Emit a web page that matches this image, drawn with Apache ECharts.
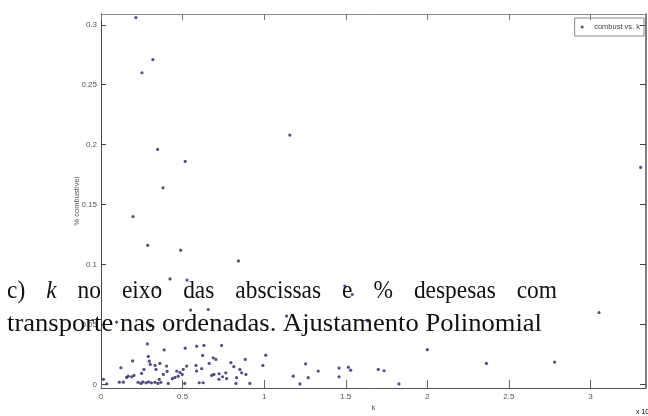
<!DOCTYPE html>
<html>
<head>
<meta charset="utf-8">
<script src="https://cdn.jsdelivr.net/npm/echarts@6/dist/echarts.min.js"></script>
<style>
  html, body { margin: 0; padding: 0; background: #fff; }
  #chart { width: 648px; height: 416px; }
</style>
</head>
<body>
<div id="chart"></div>
<script>
// k values (raw units; axis shows them scaled by 10^4)
const kValues = [
  2140, 3180, 2510, 11570, 3470, 5160, 33070, 3800, 1960, 2860,
  4880, 8420, 4230, 5270, 3430, 14940, 15400, 5490, 6570, 30520,
  11370, 960, 3020, 16330, 20000, 23620, 27800, 12540, 11780, 12190,
  12700, 13310, 14590, 14590, 15160, 15300, 16990, 17350, 18260, 10100,
  9920, 150, 350, 1220, 1120, 1370, 1940, 1570, 1670, 1880,
  2020, 2840, 2900, 2960, 3020, 3870, 5160, 2490, 2630, 3370,
  3570, 3820, 4020, 4050, 4370, 4640, 4730, 5040, 4980, 5250,
  2270, 2450, 2570, 2760, 2910, 3090, 3310, 3490, 3670, 4120,
  3310, 3610, 4530, 4840, 5130, 5820, 5860, 6170, 6230, 6020,
  6260, 6310, 6630, 6880, 6920, 7390, 7240, 7450, 7650, 7700,
  7960, 8140, 8270, 8510, 8620, 8840, 9120, 8310, 7040, 5860,
  6780, 7230, 8880
];
// share of fuel in expenses, paired with kValues
const combustValues = [
  0.306, 0.271, 0.260, 0.208, 0.196, 0.186, 0.181, 0.164, 0.140, 0.116,
  0.112, 0.103, 0.088, 0.087, 0.081, 0.082, 0.075, 0.062, 0.0625, 0.060,
  0.057, 0.052, 0.049, 0.053, 0.029, 0.0175, 0.0186, 0.0172, 0.0069, 0.0004,
  0.0056, 0.0111, 0.0136, 0.0063, 0.0144, 0.0119, 0.0125, 0.0114, 0.0004, 0.0244,
  0.0158, 0.0042, 0.0004, 0.0139, 0.0019, 0.0019, 0.0196, 0.0058, 0.0069, 0.0064,
  0.0075, 0.0338, 0.0233, 0.0194, 0.0167, 0.0288, 0.0302, 0.0092, 0.0125, 0.0125,
  0.0042, 0.0083, 0.0153, 0.0108, 0.0048, 0.0111, 0.0069, 0.0125, 0.0083, 0.0153,
  0.0017, 0.0008, 0.0021, 0.0013, 0.0021, 0.0013, 0.0017, 0.0008, 0.0017, 0.0008,
  0.0158, 0.0175, 0.0058, 0.0100, 0.0008, 0.0158, 0.0319, 0.0131, 0.0242, 0.0014,
  0.0014, 0.0325, 0.0175, 0.0222, 0.0083, 0.0325, 0.0089, 0.0064, 0.0097, 0.0048,
  0.0181, 0.0148, 0.0008, 0.0125, 0.0097, 0.0208, 0.0008, 0.0056, 0.0208, 0.0111,
  0.0075, 0.0042, 0.0083
];

const kTicks = [0, 5000, 10000, 15000, 20000, 25000, 30000];
const kTickLabels = ['0', '0.5', '1', '1.5', '2', '2.5', '3'];
const combustTicks = [0, 0.05, 0.1, 0.15, 0.2, 0.25, 0.3];
const combustTickLabels = ['0', '0.05', '0.1', '0.15', '0.2', '0.25', '0.3'];

const seriesName = 'combust vs. k';
const xName = 'k';
const yName = '% combustível';
const line1Words = ['c)', 'k', 'no', 'eixo', 'das', 'abscissas', 'e', '%', 'despesas', 'com'];
const line1Italic = [false, true, false, false, false, false, false, false, false, false];
const line2Text = 'transporte nas ordenadas. Ajustamento Polinomial';

const points = kValues.map((k, i) => [k, combustValues[i]]);

const tickFont = '"Liberation Sans", Arial, sans-serif';
const serif = '"Liberation Serif", serif';
const FS = 25;

// caption: second line at natural spacing, first line justified to a wider measure
const ctx = document.createElement('canvas').getContext('2d');
function measure(text, italic) {
  ctx.font = (italic ? 'italic ' : '') + FS + 'px ' + serif;
  return ctx.measureText(text).width;
}
const left = 7;
const line2Width = 535;
const sx = line2Width / measure(line2Text, false);
const sx1 = sx * 0.88;
const line1Width = 550;
const widths = line1Words.map((w, i) => measure(w, line1Italic[i]) * sx1);
const totalW = widths.reduce((a, b) => a + b, 0);
const gap = (line1Width - totalW) / (line1Words.length - 1);
const captionElements = [];
let cx = left;
line1Words.forEach((w, i) => {
  captionElements.push({
    type: 'text', x: cx, y: 291, scaleX: sx1, z: 100,
    style: {
      text: w, x: 0, y: 0, fontSize: FS, fontFamily: serif,
      fontStyle: line1Italic[i] ? 'italic' : 'normal',
      fill: '#111', align: 'left', verticalAlign: 'middle'
    }
  });
  cx += widths[i] + gap;
});
captionElements.push({
  type: 'text', x: left, y: 324, scaleX: sx, z: 100,
  style: {
    text: line2Text, x: 0, y: 0, fontSize: FS, fontFamily: serif,
    fill: '#111', align: 'left', verticalAlign: 'middle'
  }
});

const chart = echarts.init(document.getElementById('chart'), null, { renderer: 'canvas' });

const axisCommon = {
  type: 'value',
  splitLine: { show: false },
  axisLine: { show: true, onZero: false, lineStyle: { color: '#555', width: 1 } }
};

chart.setOption({
  animation: false,
  backgroundColor: '#fff',
  grid: { left: 101, right: 2, top: 14, bottom: 28, outerBoundsMode: 'none', containLabel: false },
  legend: {
    data: [{ name: seriesName, icon: 'circle' }],
    right: 4, top: 18,
    itemWidth: 14, itemHeight: 3,
    padding: [5, 4, 5, 6],
    borderColor: '#888', borderWidth: 1,
    textStyle: { fontSize: 7.5, color: '#444', fontFamily: tickFont }
  },
  xAxis: [
    Object.assign({}, axisCommon, {
      position: 'bottom', min: 0, max: 33400,
      name: xName, nameLocation: 'middle', nameGap: 16, nameMoveOverlap: false,
      nameTextStyle: { fontSize: 8, color: '#555', fontFamily: tickFont },
      axisTick: { inside: true, length: 8, customValues: kTicks, lineStyle: { color: '#666' } },
      axisLabel: {
        customValues: kTicks, margin: 5, fontSize: 8, color: '#555', fontFamily: tickFont,
        formatter: v => kTickLabels[kTicks.indexOf(v)]
      }
    }),
    Object.assign({}, axisCommon, {
      position: 'top', min: 0, max: 33400,
      axisLine: { show: true, onZero: false, lineStyle: { color: '#888', width: 1 } },
      axisTick: { inside: true, length: 6, customValues: kTicks, lineStyle: { color: '#777' } },
      axisLabel: { show: false }
    })
  ],
  yAxis: [
    Object.assign({}, axisCommon, {
      position: 'left', min: -0.003, max: 0.309,
      name: yName, nameLocation: 'middle', nameGap: 20, nameRotate: 90, nameMoveOverlap: false,
      nameTextStyle: { fontSize: 7.5, color: '#555', fontFamily: tickFont },
      axisLine: { show: true, onZero: false, lineStyle: { color: '#444', width: 1 } },
      axisTick: { inside: true, length: 5, customValues: combustTicks, lineStyle: { color: '#444' } },
      axisLabel: {
        customValues: combustTicks, margin: 4, fontSize: 8, color: '#555', fontFamily: tickFont,
        formatter: v => combustTickLabels[combustTicks.indexOf(v)]
      }
    }),
    Object.assign({}, axisCommon, {
      position: 'right', min: -0.003, max: 0.309,
      axisLine: { show: true, onZero: false, lineStyle: { color: '#555', width: 1.5 } },
      axisTick: { inside: true, length: 6, customValues: combustTicks, lineStyle: { color: '#444' } },
      axisLabel: { show: false }
    })
  ],
  series: [{
    name: seriesName,
    type: 'scatter',
    xAxisIndex: 0, yAxisIndex: 0,
    symbol: 'circle',
    symbolSize: 3.2,
    itemStyle: { color: '#2c2166' },
    data: points
  }],
  graphic: [
    {
      type: 'text', left: 636, top: 405, z: 50,
      style: {
        text: '{b|x 10}{s|4}',
        rich: {
          b: { fontSize: 7, color: '#555', fontFamily: tickFont, padding: [4, 0, 0, 0] },
          s: { fontSize: 6, color: '#555', fontFamily: tickFont, padding: [0, 0, 4, 0] }
        }
      }
    }
  ].concat(captionElements)
});
</script>
</body>
</html>
